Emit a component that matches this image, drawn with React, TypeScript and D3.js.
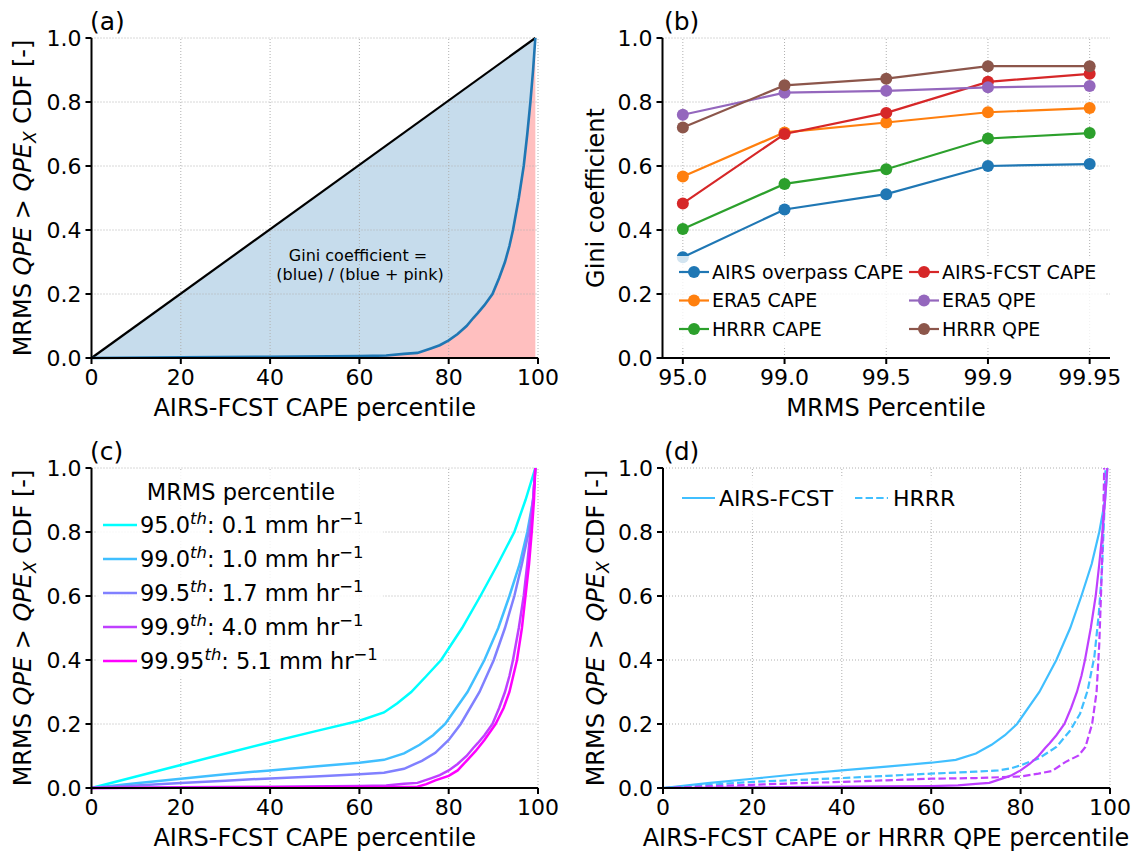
import * as d3 from 'd3'

const FONT = "'DejaVu Sans', sans-serif"
const W = 1137
const H = 854

const pctTicks = [0, 20, 40, 60, 80, 100]
const cdfTicks = [0, 0.2, 0.4, 0.6, 0.8, 1.0]
const mrmsLabels = ['95.0', '99.0', '99.5', '99.9', '99.95']

// (b) Gini coefficient per MRMS percentile, legend order (column-wise)
const giniNames = ['AIRS overpass CAPE', 'ERA5 CAPE', 'HRRR CAPE', 'AIRS-FCST CAPE', 'ERA5 QPE', 'HRRR QPE']
const giniAirsOverpass = [0.315, 0.464, 0.512, 0.6, 0.606]
const giniEra5Cape = [0.567, 0.705, 0.736, 0.768, 0.781]
const giniHrrrCape = [0.403, 0.544, 0.59, 0.686, 0.703]
const giniAirsFcst = [0.483, 0.7, 0.766, 0.863, 0.888]
const giniEra5Qpe = [0.76, 0.829, 0.835, 0.846, 0.85]
const giniHrrrQpe = [0.72, 0.852, 0.873, 0.912, 0.912]

// CDF curves: [percentile, cdf]
type Pt = [number, number]
const cdfAirs950: Pt[] = [[0, 0], [10, 0.036], [20, 0.072], [30, 0.108], [40, 0.143], [50, 0.177], [60, 0.21], [65.5, 0.236], [68.5, 0.265], [71.6, 0.3], [75, 0.35], [78.3, 0.4], [83, 0.5], [87.1, 0.6], [91, 0.7], [94.7, 0.8], [97.2, 0.9], [99.4, 1.0]]
const cdfAirs990: Pt[] = [[0, 0], [10, 0.015], [20, 0.029], [30, 0.043], [40, 0.055], [50, 0.067], [60, 0.079], [65.5, 0.088], [70, 0.108], [73.5, 0.135], [76.5, 0.165], [79.2, 0.2], [84.2, 0.3], [88, 0.4], [91.1, 0.5], [93.6, 0.6], [95.9, 0.7], [97.6, 0.8], [98.9, 0.9], [99.4, 1.0]]
const cdfAirs995: Pt[] = [[0, 0], [10, 0.008], [20, 0.016], [30, 0.023], [40, 0.03], [50, 0.036], [60, 0.043], [65.5, 0.048], [70, 0.06], [74, 0.085], [77, 0.11], [80, 0.15], [82.7, 0.2], [86.9, 0.3], [90.1, 0.4], [92.6, 0.5], [94.7, 0.6], [96.4, 0.7], [97.9, 0.8], [98.9, 0.9], [99.4, 1.0]]
const cdfAirs999: Pt[] = [[0, 0], [20, 0.002], [40, 0.004], [60, 0.006], [66, 0.008], [70, 0.013], [73, 0.016], [76, 0.03], [78, 0.04], [80, 0.055], [82, 0.075], [84, 0.1], [85.5, 0.125], [86.5, 0.14], [88, 0.165], [89.8, 0.2], [91.3, 0.25], [92.6, 0.3], [93.6, 0.35], [94.4, 0.4], [95.7, 0.5], [96.8, 0.6], [97.6, 0.7], [98.3, 0.8], [98.9, 0.9], [99.4, 1.0]]
const cdfAirs9995: Pt[] = [[0, 0], [20, 0.001], [40, 0.002], [60, 0.003], [73, 0.004], [75, 0.012], [77, 0.024], [80, 0.038], [82, 0.055], [84, 0.085], [86, 0.115], [88, 0.15], [90.5, 0.2], [92.3, 0.25], [93.6, 0.3], [95.3, 0.4], [96.4, 0.5], [97.2, 0.6], [98, 0.7], [98.6, 0.8], [99.1, 0.9], [99.4, 1.0]]
const cdfHrrr990: Pt[] = [[0, 0], [10, 0.01], [20, 0.019], [30, 0.025], [40, 0.031], [50, 0.038], [60, 0.045], [70, 0.051], [75, 0.055], [78, 0.062], [80, 0.071], [84, 0.092], [88, 0.128], [91, 0.178], [93.3, 0.232], [95, 0.305], [96.5, 0.41], [97.5, 0.545], [98.2, 0.68], [98.7, 0.85], [99, 1.0]]
const cdfHrrr999: Pt[] = [[0, 0], [10, 0.005], [20, 0.01], [30, 0.015], [40, 0.019], [50, 0.024], [60, 0.029], [70, 0.031], [80, 0.036], [84, 0.045], [87, 0.053], [90, 0.081], [93, 0.102], [94.5, 0.128], [96, 0.2], [97, 0.3], [97.6, 0.45], [98.1, 0.65], [98.5, 0.85], [98.7, 1.0]]
const equality: Pt[] = [[0, 0], [99.4, 1.0]]

const cLabels = ['95.0', '99.0', '99.5', '99.9', '99.95']
const cRates = ['0.1', '1.0', '1.7', '4.0', '5.1']

const GRID = { stroke: '#b0b0b0', strokeWidth: 1, strokeDasharray: '1,2' }

type Scale = d3.ScaleLinear<number, number>

function Grid({ x, y, xt, yt }: { x: Scale; y: Scale; xt: number[]; yt: number[] }) {
  const [x0, x1] = x.range()
  const [y0, y1] = y.range()
  return (
    <g>
      {xt.map(t => <line key={'x' + t} x1={x(t)} x2={x(t)} y1={y0} y2={y1} {...GRID} />)}
      {yt.map(t => <line key={'y' + t} x1={x0} x2={x1} y1={y(t)} y2={y(t)} {...GRID} />)}
    </g>
  )
}

function Axes({ x, y, xt, xl, yt }: { x: Scale; y: Scale; xt: number[]; xl: string[]; yt: number[] }) {
  const [x0, x1] = x.range()
  const [y0, y1] = y.range()
  const fmt = d3.format('.1f')
  return (
    <g fontFamily={FONT} fontSize={22} fill="#000">
      <line x1={x0} x2={x0} y1={y0 + 1} y2={y1} stroke="#000" strokeWidth={2} />
      <line x1={x0 - 1} x2={x1} y1={y0} y2={y0} stroke="#000" strokeWidth={2} />
      {xt.map((t, i) => (
        <g key={'xt' + i}>
          <line x1={x(t)} x2={x(t)} y1={y0} y2={y0 + 6} stroke="#000" strokeWidth={2} />
          <text x={x(t)} y={y0 + 27} textAnchor="middle">{xl[i]}</text>
        </g>
      ))}
      {yt.map(t => (
        <g key={'yt' + t}>
          <line x1={x0 - 6} x2={x0} y1={y(t)} y2={y(t)} stroke="#000" strokeWidth={2} />
          <text x={x0 - 10} y={y(t)} dy="0.36em" textAnchor="end">{fmt(t)}</text>
        </g>
      ))}
    </g>
  )
}

function CdfYLabel({ x, y }: { x: number; y: number }) {
  return (
    <text transform={`translate(${x},${y}) rotate(-90)`} textAnchor="middle" fontFamily={FONT} fontSize={24}>
      {'MRMS '}
      <tspan fontStyle="italic">QPE</tspan>
      {' > '}
      <tspan fontStyle="italic">QPE</tspan>
      <tspan fontStyle="italic" fontSize={17} dy={5}>X</tspan>
      <tspan dy={-5}>{' CDF [-]'}</tspan>
    </text>
  )
}

function PanelLabel({ x, y, t }: { x: number; y: number; t: string }) {
  return <text x={x} y={y} fontFamily={FONT} fontSize={25}>{t}</text>
}

export default function App() {
  const xL = d3.scaleLinear().domain([0, 100]).range([91.5, 538])
  const xR = d3.scaleLinear().domain([0, 100]).range([663, 1110])
  const xB = d3.scaleLinear().domain([-0.2, 4.2]).range([662.5, 1110])
  const yTop = d3.scaleLinear().domain([0, 1]).range([358, 38])
  const yBot = d3.scaleLinear().domain([0, 1]).range([788, 468])

  const lineOf = (x: Scale, y: Scale) => d3.line<Pt>().x(d => x(d[0])).y(d => y(d[1]))

  // (a) fills
  const pink = d3.area<Pt>().x(d => xL(d[0])).y0(yTop(0)).y1(d => yTop(d[1]))(cdfAirs999) || ''
  const bluePoly = [...equality, ...[...cdfAirs999].reverse()]
  const blue = (lineOf(xL, yTop)(bluePoly) || '') + 'Z'

  const coolColors = [0, 0.25, 0.5, 0.75, 1].map(t => d3.rgb(255 * t, 255 * (1 - t), 255).formatHex())
  const cCurves = [cdfAirs950, cdfAirs990, cdfAirs995, cdfAirs999, cdfAirs9995]

  const giniSeries = [giniAirsOverpass, giniEra5Cape, giniHrrrCape, giniAirsFcst, giniEra5Qpe, giniHrrrQpe]
  const tab = d3.schemeCategory10
  const giniColors = [tab[0], tab[1], tab[2], tab[3], tab[4], tab[5]]
  const giniLine = d3.line<number>().x((_, i) => xB(i)).y(d => yTop(d))
  const idx = mrmsLabels.map((_, i) => i)

  return (
    <div style={{ position: 'absolute', left: 0, top: 0 }}>
      <svg width={W} height={H} style={{ display: 'block', background: '#fff' }}>
        {/* ---------- (a) ---------- */}
        <path d={blue} fill="#c6dcec" />
        <path d={pink} fill="#ffbfbf" />
        <Grid x={xL} y={yTop} xt={pctTicks} yt={cdfTicks} />
        <path d={lineOf(xL, yTop)(equality) || ''} fill="none" stroke="#000" strokeWidth={2.2} />
        <path d={lineOf(xL, yTop)(cdfAirs999) || ''} fill="none" stroke="#1f77b4" strokeWidth={2.6} />
        <text x={358} y={261} textAnchor="middle" fontFamily={FONT} fontSize={16}>Gini coefficient =</text>
        <text x={360} y={280} textAnchor="middle" fontFamily={FONT} fontSize={16}>(blue) / (blue + pink)</text>
        <Axes x={xL} y={yTop} xt={pctTicks} xl={pctTicks.map(String)} yt={cdfTicks} />
        <text x={314.75} y={416} textAnchor="middle" fontFamily={FONT} fontSize={24}>AIRS-FCST CAPE percentile</text>
        <CdfYLabel x={31} y={198} />
        <PanelLabel x={90} y={30} t="(a)" />

        {/* ---------- (b) ---------- */}
        <Grid x={xB} y={yTop} xt={idx} yt={cdfTicks} />
        {giniSeries.map((s, k) => (
          <g key={'g' + k}>
            <path d={giniLine(s) || ''} fill="none" stroke={giniColors[k]} strokeWidth={2.2} />
            {s.map((v, i) => <circle key={i} cx={xB(i)} cy={yTop(v)} r={6} fill={giniColors[k]} />)}
          </g>
        ))}
        <rect x={670} y={256} width={436} height={91} fill="#fff" fillOpacity={0.8} />
        {giniNames.map((n, k) => {
          const col = Math.floor(k / 3)
          const row = k % 3
          const lx = col === 0 ? 679 : 909
          const ly = 272 + row * 28.5
          return (
            <g key={'lb' + k}>
              <line x1={lx} x2={lx + 30} y1={ly} y2={ly} stroke={giniColors[k]} strokeWidth={2.2} />
              <circle cx={lx + 15} cy={ly} r={6} fill={giniColors[k]} />
              <text x={lx + 33} y={ly} dy="0.36em" fontFamily={FONT} fontSize={19}>{n}</text>
            </g>
          )
        })}
        <Axes x={xB} y={yTop} xt={idx} xl={mrmsLabels} yt={cdfTicks} />
        <text x={886} y={416} textAnchor="middle" fontFamily={FONT} fontSize={24}>MRMS Percentile</text>
        <text transform="translate(604,198) rotate(-90)" textAnchor="middle" fontFamily={FONT} fontSize={24}>Gini coefficient</text>
        <PanelLabel x={664} y={30} t="(b)" />

        {/* ---------- (c) ---------- */}
        <Grid x={xL} y={yBot} xt={pctTicks} yt={cdfTicks} />
        {cCurves.map((c, k) => (
          <path key={'c' + k} d={lineOf(xL, yBot)(c) || ''} fill="none" stroke={coolColors[k]} strokeWidth={2.5} />
        ))}
        <rect x={97} y={472} width={286} height={205} fill="#fff" fillOpacity={0.85} />
        <text x={241} y={492} dy="0.36em" textAnchor="middle" fontFamily={FONT} fontSize={22.5}>MRMS percentile</text>
        {cLabels.map((l, k) => {
          const ly = 525 + k * 34
          return (
            <g key={'lc' + k} fontFamily={FONT} fontSize={22.5}>
              <line x1={103} x2={137} y1={ly} y2={ly} stroke={coolColors[k]} strokeWidth={2.5} />
              <text x={140} y={ly + 8}>
                {l}
                <tspan fontStyle="italic" fontSize={16.5} dy={-9}>th</tspan>
                <tspan dy={9}>{': ' + cRates[k] + ' mm hr'}</tspan>
                <tspan fontSize={16.5} dy={-9}>−1</tspan>
              </text>
            </g>
          )
        })}
        <Axes x={xL} y={yBot} xt={pctTicks} xl={pctTicks.map(String)} yt={cdfTicks} />
        <text x={314.75} y={846} textAnchor="middle" fontFamily={FONT} fontSize={24}>AIRS-FCST CAPE percentile</text>
        <CdfYLabel x={31} y={628} />
        <PanelLabel x={90} y={460} t="(c)" />

        {/* ---------- (d) ---------- */}
        <Grid x={xR} y={yBot} xt={pctTicks} yt={cdfTicks} />
        <path d={lineOf(xR, yBot)(cdfAirs990) || ''} fill="none" stroke={coolColors[1]} strokeWidth={2.2} />
        <path d={lineOf(xR, yBot)(cdfHrrr990) || ''} fill="none" stroke={coolColors[1]} strokeWidth={2.2} strokeDasharray="7.4,3.2" />
        <path d={lineOf(xR, yBot)(cdfAirs999) || ''} fill="none" stroke={coolColors[3]} strokeWidth={2.2} />
        <path d={lineOf(xR, yBot)(cdfHrrr999) || ''} fill="none" stroke={coolColors[3]} strokeWidth={2.2} strokeDasharray="7.4,3.2" />
        <rect x={672} y={478} width={303} height={40} fill="#fff" fillOpacity={0.85} />
        <line x1={682} x2={715} y1={498} y2={498} stroke={coolColors[1]} strokeWidth={2.2} />
        <text x={719} y={498} dy="0.36em" fontFamily={FONT} fontSize={22}>AIRS-FCST</text>
        <line x1={855} x2={888} y1={498} y2={498} stroke={coolColors[1]} strokeWidth={2.2} strokeDasharray="7.4,3.2" />
        <text x={893} y={498} dy="0.36em" fontFamily={FONT} fontSize={22}>HRRR</text>
        <Axes x={xR} y={yBot} xt={pctTicks} xl={pctTicks.map(String)} yt={cdfTicks} />
        <text x={886} y={846} textAnchor="middle" fontFamily={FONT} fontSize={24}>AIRS-FCST CAPE or HRRR QPE percentile</text>
        <CdfYLabel x={604} y={628} />
        <PanelLabel x={664} y={460} t="(d)" />
      </svg>
    </div>
  )
}
